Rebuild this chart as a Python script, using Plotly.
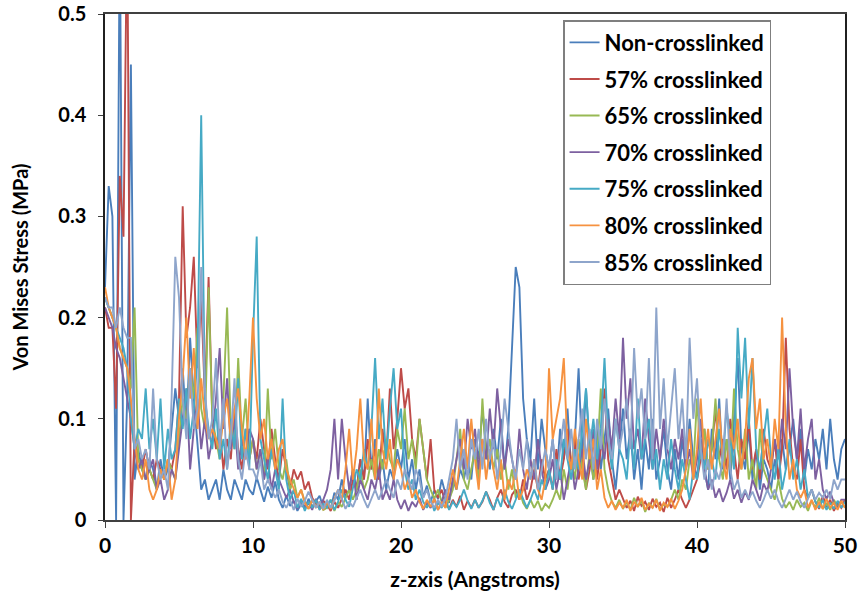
import plotly.graph_objects as go

# x positions (Angstroms), 0.25 A spacing
z_axis = [i * 0.25 for i in range(201)]

non_crosslinked = [
    0.23,0.33,0.30,0.00,0.60,0.00,0.12,0.45,0.04,0.07,0.05,0.04,0.06,0.05,0.03,0.06,0.04,0.05,0.09,0.13,
    0.10,0.15,0.09,0.18,0.12,0.07,0.03,0.04,0.02,0.03,0.04,0.02,0.05,0.03,0.02,0.04,0.03,0.02,0.04,0.03,
    0.025,0.042,0.03,0.018,0.033,0.022,0.038,0.02,0.012,0.024,0.014,0.019,0.009,0.016,0.011,0.021,0.013,0.018,0.024,0.012,
    0.018,0.011,0.027,0.02,0.04,0.023,0.03,0.05,0.03,0.06,0.04,0.12,0.05,0.08,0.04,0.06,0.03,0.05,0.04,0.07,
    0.05,0.08,0.04,0.06,0.03,0.05,0.022,0.034,0.018,0.029,0.021,0.04,0.026,0.017,0.04,0.03,0.05,0.04,0.06,0.04,
    0.08,0.06,0.11,0.07,0.05,0.09,0.06,0.10,0.05,0.09,0.17,0.25,0.23,0.12,0.08,0.06,0.12,0.05,0.10,0.07,
    0.05,0.08,0.04,0.09,0.06,0.11,0.05,0.08,0.15,0.06,0.13,0.07,0.04,0.09,0.05,0.08,0.11,0.06,0.03,0.07,
    0.11,0.06,0.09,0.04,0.07,0.03,0.08,0.05,0.10,0.04,0.06,0.09,0.05,0.03,0.07,0.04,0.08,0.05,0.10,0.06,
    0.04,0.08,0.05,0.03,0.09,0.06,0.12,0.05,0.08,0.04,0.10,0.16,0.07,0.05,0.09,0.04,0.07,0.03,0.06,0.05,
    0.03,0.06,0.04,0.08,0.05,0.07,0.10,0.06,0.09,0.04,0.07,0.05,0.08,0.06,0.09,0.05,0.10,0.06,0.04,0.07,
    0.08,
]
crosslinked_57 = [
    0.21,0.19,0.19,0.11,0.34,0.28,0.60,0.00,0.08,0.06,0.05,0.07,0.05,0.04,0.06,0.05,0.04,0.06,0.05,0.07,
    0.12,0.31,0.18,0.21,0.26,0.15,0.22,0.12,0.24,0.10,0.07,0.09,0.05,0.08,0.06,0.11,0.07,0.05,0.09,0.06,
    0.08,0.06,0.10,0.07,0.05,0.09,0.06,0.04,0.07,0.05,0.03,0.05,0.04,0.048,0.03,0.038,0.022,0.016,0.011,0.019,
    0.015,0.009,0.018,0.012,0.021,0.03,0.02,0.04,0.03,0.06,0.04,0.08,0.05,0.07,0.04,0.09,0.06,0.13,0.07,0.10,
    0.15,0.11,0.13,0.08,0.06,0.10,0.07,0.04,0.08,0.03,0.022,0.03,0.017,0.011,0.02,0.013,0.024,0.01,0.019,0.012,
    0.02,0.012,0.018,0.028,0.02,0.01,0.022,0.03,0.018,0.012,0.025,0.03,0.02,0.04,0.02,0.03,0.05,0.03,0.06,0.04,
    0.05,0.03,0.07,0.04,0.06,0.09,0.05,0.08,0.04,0.06,0.03,0.05,0.08,0.04,0.07,0.13,0.06,0.04,0.02,0.03,
    0.02,0.012,0.019,0.009,0.023,0.014,0.018,0.01,0.021,0.013,0.017,0.008,0.022,0.012,0.02,0.03,0.02,0.012,0.02,0.03,
    0.04,0.06,0.09,0.05,0.07,0.11,0.06,0.08,0.05,0.10,0.07,0.04,0.08,0.06,0.10,0.05,0.07,0.04,0.09,0.06,
    0.05,0.08,0.04,0.07,0.18,0.09,0.05,0.04,0.08,0.03,0.022,0.03,0.018,0.011,0.024,0.013,0.02,0.009,0.017,0.012,
    0.02,
]
crosslinked_65 = [
    0.22,0.21,0.20,0.19,0.17,0.16,0.15,0.13,0.21,0.06,0.05,0.04,0.05,0.04,0.03,0.05,0.04,0.06,0.05,0.04,
    0.08,0.12,0.10,0.15,0.12,0.19,0.11,0.09,0.23,0.10,0.08,0.06,0.12,0.21,0.09,0.07,0.16,0.08,0.12,0.06,
    0.08,0.05,0.07,0.04,0.13,0.06,0.09,0.05,0.04,0.06,0.03,0.04,0.022,0.03,0.018,0.011,0.02,0.013,0.017,0.01,
    0.012,0.02,0.009,0.018,0.013,0.022,0.03,0.02,0.03,0.05,0.03,0.04,0.06,0.04,0.07,0.05,0.08,0.06,0.05,0.09,
    0.07,0.11,0.06,0.08,0.05,0.10,0.07,0.04,0.03,0.021,0.03,0.018,0.012,0.02,0.03,0.06,0.09,0.04,0.03,0.05,
    0.07,0.04,0.12,0.06,0.08,0.05,0.07,0.04,0.06,0.03,0.05,0.022,0.03,0.017,0.011,0.02,0.012,0.019,0.009,0.016,
    0.012,0.02,0.03,0.02,0.05,0.03,0.06,0.04,0.08,0.05,0.03,0.07,0.04,0.06,0.13,0.05,0.03,0.018,0.012,0.02,
    0.011,0.018,0.01,0.022,0.013,0.019,0.008,0.017,0.012,0.021,0.01,0.016,0.013,0.02,0.03,0.02,0.04,0.03,0.06,0.05,
    0.12,0.06,0.09,0.05,0.07,0.12,0.06,0.04,0.08,0.05,0.13,0.07,0.05,0.09,0.04,0.06,0.03,0.09,0.05,0.04,
    0.03,0.02,0.04,0.021,0.012,0.018,0.01,0.02,0.013,0.017,0.009,0.019,0.012,0.022,0.011,0.016,0.01,0.02,0.013,0.018,
    0.012,
]
crosslinked_70 = [
    0.21,0.20,0.19,0.17,0.16,0.14,0.12,0.10,0.07,0.05,0.06,0.04,0.05,0.06,0.03,0.04,0.02,0.03,0.05,0.04,
    0.07,0.10,0.13,0.05,0.09,0.12,0.07,0.10,0.06,0.08,0.12,0.17,0.09,0.14,0.07,0.10,0.05,0.08,0.06,0.09,
    0.08,0.05,0.07,0.04,0.06,0.03,0.05,0.04,0.03,0.022,0.03,0.018,0.011,0.02,0.013,0.017,0.01,0.021,0.012,0.02,
    0.03,0.05,0.10,0.04,0.10,0.06,0.03,0.05,0.02,0.04,0.03,0.02,0.04,0.03,0.05,0.02,0.03,0.02,0.04,0.02,
    0.011,0.02,0.009,0.018,0.013,0.022,0.01,0.017,0.012,0.021,0.01,0.018,0.03,0.02,0.04,0.06,0.08,0.05,0.10,0.07,
    0.09,0.05,0.08,0.06,0.11,0.07,0.13,0.09,0.05,0.08,0.06,0.04,0.09,0.05,0.03,0.06,0.04,0.08,0.05,0.03,
    0.04,0.06,0.03,0.05,0.02,0.04,0.06,0.03,0.05,0.07,0.04,0.06,0.09,0.05,0.08,0.06,0.10,0.07,0.12,0.08,
    0.18,0.10,0.14,0.07,0.09,0.06,0.12,0.08,0.05,0.09,0.06,0.10,0.07,0.05,0.08,0.06,0.09,0.05,0.07,0.04,
    0.06,0.10,0.05,0.03,0.04,0.022,0.031,0.018,0.027,0.04,0.021,0.03,0.017,0.028,0.02,0.04,0.03,0.019,0.036,0.028,
    0.05,0.08,0.06,0.10,0.07,0.15,0.09,0.06,0.11,0.05,0.08,0.10,0.04,0.06,0.03,0.021,0.028,0.017,0.012,0.02,
    0.02,
]
crosslinked_75 = [
    0.22,0.21,0.20,0.19,0.18,0.17,0.15,0.10,0.07,0.09,0.08,0.13,0.07,0.10,0.06,0.12,0.05,0.09,0.06,0.07,
    0.12,0.09,0.13,0.08,0.11,0.16,0.40,0.12,0.09,0.07,0.11,0.06,0.08,0.05,0.10,0.07,0.14,0.06,0.09,0.05,
    0.18,0.28,0.08,0.06,0.04,0.07,0.05,0.03,0.12,0.04,0.02,0.03,0.012,0.021,0.009,0.018,0.012,0.02,0.01,0.016,
    0.012,0.02,0.01,0.018,0.03,0.02,0.013,0.03,0.05,0.04,0.07,0.05,0.09,0.16,0.08,0.12,0.06,0.11,0.15,0.09,
    0.11,0.05,0.03,0.04,0.02,0.03,0.018,0.012,0.021,0.009,0.017,0.012,0.022,0.01,0.018,0.013,0.02,0.03,0.019,0.011,
    0.02,0.012,0.019,0.028,0.017,0.01,0.022,0.013,0.03,0.018,0.011,0.02,0.03,0.021,0.012,0.02,0.03,0.02,0.04,0.03,
    0.05,0.03,0.06,0.04,0.08,0.06,0.04,0.07,0.05,0.09,0.13,0.07,0.10,0.06,0.09,0.16,0.08,0.05,0.10,0.07,
    0.06,0.04,0.09,0.05,0.12,0.06,0.08,0.10,0.05,0.07,0.03,0.06,0.04,0.08,0.05,0.03,0.06,0.04,0.02,0.05,
    0.04,0.07,0.05,0.08,0.06,0.04,0.09,0.06,0.11,0.08,0.05,0.19,0.12,0.18,0.09,0.16,0.07,0.05,0.08,0.11,
    0.06,0.04,0.07,0.03,0.05,0.08,0.04,0.06,0.03,0.05,0.022,0.03,0.018,0.012,0.02,0.01,0.017,0.011,0.019,0.012,
    0.018,
]
crosslinked_80 = [
    0.23,0.21,0.20,0.19,0.17,0.16,0.15,0.12,0.08,0.05,0.04,0.06,0.03,0.02,0.03,0.05,0.04,0.06,0.02,0.04,
    0.10,0.14,0.20,0.12,0.17,0.09,0.14,0.10,0.08,0.09,0.08,0.07,0.10,0.12,0.08,0.11,0.13,0.09,0.06,0.12,
    0.20,0.12,0.08,0.10,0.06,0.08,0.05,0.07,0.08,0.05,0.04,0.03,0.022,0.03,0.017,0.011,0.02,0.012,0.018,0.01,
    0.018,0.011,0.02,0.03,0.02,0.05,0.09,0.04,0.07,0.12,0.06,0.05,0.10,0.04,0.13,0.07,0.05,0.08,0.04,0.06,
    0.05,0.03,0.04,0.022,0.03,0.018,0.011,0.02,0.013,0.021,0.01,0.018,0.012,0.03,0.05,0.03,0.06,0.09,0.05,0.10,
    0.06,0.03,0.08,0.04,0.07,0.05,0.03,0.06,0.02,0.04,0.03,0.05,0.02,0.03,0.05,0.04,0.06,0.03,0.02,0.04,
    0.15,0.08,0.10,0.12,0.16,0.07,0.05,0.09,0.06,0.04,0.10,0.06,0.08,0.03,0.05,0.022,0.012,0.019,0.01,0.017,
    0.012,0.02,0.009,0.018,0.013,0.022,0.01,0.016,0.012,0.02,0.009,0.017,0.013,0.021,0.011,0.019,0.03,0.05,0.09,0.04,
    0.07,0.12,0.06,0.09,0.05,0.08,0.11,0.06,0.04,0.09,0.07,0.10,0.05,0.08,0.14,0.16,0.09,0.12,0.06,0.08,
    0.05,0.10,0.07,0.20,0.09,0.04,0.06,0.03,0.022,0.03,0.012,0.02,0.01,0.018,0.011,0.021,0.012,0.017,0.01,0.019,
    0.012,
]
crosslinked_85 = [
    0.22,0.21,0.21,0.19,0.21,0.19,0.18,0.18,0.07,0.08,0.06,0.07,0.05,0.13,0.06,0.04,0.05,0.03,0.12,0.26,
    0.22,0.12,0.08,0.15,0.09,0.11,0.25,0.13,0.08,0.10,0.16,0.07,0.12,0.05,0.08,0.14,0.06,0.04,0.07,0.05,
    0.05,0.04,0.06,0.03,0.04,0.03,0.022,0.03,0.018,0.012,0.02,0.01,0.021,0.013,0.019,0.028,0.02,0.012,0.018,0.011,
    0.02,0.012,0.019,0.03,0.021,0.011,0.018,0.013,0.022,0.03,0.02,0.012,0.021,0.03,0.02,0.03,0.04,0.03,0.022,0.04,
    0.03,0.05,0.04,0.03,0.05,0.04,0.022,0.03,0.018,0.012,0.02,0.013,0.021,0.04,0.06,0.10,0.05,0.07,0.04,0.08,
    0.06,0.09,0.05,0.10,0.06,0.08,0.04,0.07,0.12,0.09,0.06,0.04,0.07,0.05,0.08,0.04,0.06,0.03,0.05,0.07,
    0.05,0.08,0.04,0.07,0.10,0.06,0.09,0.05,0.08,0.11,0.06,0.09,0.05,0.10,0.07,0.12,0.08,0.06,0.10,0.07,
    0.09,0.12,0.07,0.17,0.10,0.13,0.08,0.16,0.06,0.21,0.09,0.14,0.07,0.11,0.15,0.08,0.12,0.06,0.18,0.10,
    0.14,0.07,0.04,0.06,0.03,0.05,0.04,0.06,0.12,0.05,0.03,0.04,0.022,0.03,0.021,0.028,0.019,0.012,0.02,0.03,
    0.021,0.03,0.019,0.012,0.022,0.03,0.02,0.028,0.018,0.012,0.021,0.03,0.02,0.027,0.022,0.03,0.021,0.04,0.03,0.04,
    0.04,
]

series_names = ["Non-crosslinked", "57% crosslinked", "65% crosslinked", "70% crosslinked",
                "75% crosslinked", "80% crosslinked", "85% crosslinked"]
series_values = [non_crosslinked, crosslinked_57, crosslinked_65, crosslinked_70,
                 crosslinked_75, crosslinked_80, crosslinked_85]
colors = ["#4A7EBB", "#BE4B48", "#98B954", "#7D60A0", "#46AAC5", "#F69240", "#8EA5CB"]

FONT = "Lato"

fig = go.Figure()
for k, (name, vals, col) in enumerate(zip(series_names, series_values, colors)):
    fig.add_trace(go.Scatter(
        x=z_axis, y=vals, mode="lines", name=name,
        line=dict(color=col, width=1.9),
        legendgroup=f"g{k}",
    ))

fig.update_layout(
    width=859, height=603,
    margin=dict(l=105, r=14, t=14, b=83, autoexpand=False),
    paper_bgcolor="white", plot_bgcolor="white",
    font=dict(family=FONT, color="black"),
    showlegend=True,
    legend=dict(
        x=0.619, y=0.988, xanchor="left", yanchor="top",
        bgcolor="white", bordercolor="#7f7f7f", borderwidth=1.5,
        font=dict(family=FONT, size=22, weight="bold", color="black"),
        tracegroupgap=5, itemwidth=30,
    ),
    xaxis=dict(
        range=[0, 50], dtick=10, tick0=0, automargin=False,
        showgrid=False, zeroline=False,
        showline=True, linecolor="#404040", linewidth=1.5, mirror=True,
        ticks="outside", ticklen=6, tickcolor="#404040",
        ticklabeloverflow="allow",
        tickfont=dict(family=FONT, size=21, weight="bold"),
        title=dict(text="z-zxis (Angstroms)", font=dict(family=FONT, size=21, weight="bold"), standoff=16),
    ),
    yaxis=dict(
        range=[0, 0.5], dtick=0.1, tick0=0, automargin=False,
        showgrid=False, zeroline=False,
        showline=True, linecolor="#202020", linewidth=1.5, mirror=True,
        ticks="outside", ticklen=5, tickcolor="#404040", ticklabelstandoff=8,
        ticklabeloverflow="allow",
        tickfont=dict(family=FONT, size=20, weight="bold"),
        title=dict(text="Von Mises Stress (MPa)", font=dict(family=FONT, size=20, weight="bold"), standoff=24),
    ),
)

fig.write_html("out.html")
